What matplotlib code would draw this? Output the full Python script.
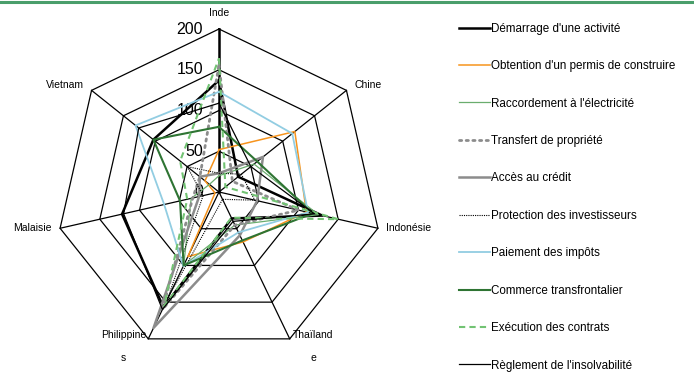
import numpy as np
import matplotlib
matplotlib.use("Agg")
import matplotlib.pyplot as plt
from matplotlib.lines import Line2D

plt.rcParams['font.family'] = ['Liberation Sans Narrow', 'Liberation Sans', 'DejaVu Sans']

# pays (axes du radar, dans le sens horaire depuis le haut)
pays = ['Inde', 'Chine', 'Indonésie', 'Thaïland\ne', 'Philippine\ns', 'Malaisie', 'Vietnam']

# classement par indicateur, dans l'ordre des pays
demarrage = [137, 30, 130, 36, 157, 122, 103]
permis = [52, 119, 110, 68, 88, 5, 22]
electricite = [20, 55, 125, 45, 100, 35, 15]
transfert = [156, 21, 100, 45, 160, 33, 30]
credit = [23, 69, 48, 59, 185, 25, 30]
protection = [23, 35, 45, 10, 145, 20, 50]
impots = [123, 115, 112, 55, 101, 69, 131]
commerce = [80, 60, 118, 66, 100, 49, 103]
contrats = [164, 10, 150, 35, 155, 40, 61]
insolvabilite = [109, 50, 120, 40, 160, 120, 126]

graduations = [0, 50, 100, 150, 200]

series = [
    ("Démarrage d'une activité", demarrage, dict(color='black', lw=1.8)),
    ("Obtention d'un permis de construire", permis, dict(color='#f7941d', lw=1.1)),
    ("Raccordement à l'électricité", electricite, dict(color='#6aad6e', lw=0.9)),
    ("Transfert de propriété", transfert, dict(color='#8c8c8c', lw=2.0, ls=(0, (0.8, 1.6)), dash_capstyle='round')),
    ("Accès au crédit", credit, dict(color='#8c8c8c', lw=1.8)),
    ("Protection des investisseurs", protection, dict(color='black', lw=0.8, ls=(0, (1, 1)))),
    ("Paiement des impôts", impots, dict(color='#92cde2', lw=1.3)),
    ("Commerce transfrontalier", commerce, dict(color='#2e7433', lw=1.5)),
    ("Exécution des contrats", contrats, dict(color='#72c373', lw=1.5, ls=(0, (3, 2)))),
    ("Règlement de l'insolvabilité", insolvabilite, dict(color='black', lw=0.9)),
]

W, H = 694, 373
fig = plt.figure(figsize=(W / 100, H / 100), dpi=100)

# repère du radar : centre et échelle en pixels
cx, cy = 219, 192
px_par_unite = 0.815
demi = 185
L = demi / px_par_unite
ax = fig.add_axes([(cx - demi) / W, (H - cy - demi) / H, 2 * demi / W, 2 * demi / H])
ax.set_xlim(-L, L)
ax.set_ylim(-L, L)
ax.set_aspect('equal')
ax.axis('off')

n = len(pays)
theta = np.arange(n) * 2 * np.pi / n
ux, uy = np.sin(theta), np.cos(theta)


def ferme(a):
    return np.append(a, a[0])


# grille heptagonale
rmax = graduations[-1]
for r in graduations[1:]:
    ax.plot(ferme(r * ux), ferme(r * uy), color='black', lw=0.9, zorder=1)
for k in range(n):
    ax.plot([0, rmax * ux[k]], [0, rmax * uy[k]], color='black',
            lw=1.8 if k == 0 else 0.9, zorder=1)

# séries
handles = []
for i, (nom, vals, style) in enumerate(series):
    v = np.array(vals, dtype=float)
    ln, = ax.plot(ferme(v * ux), ferme(v * uy), zorder=2 + i, **style)
    handles.append(ln)

# graduations sur l'axe Inde
for g in graduations:
    ax.text(-16 / px_par_unite, g, str(g), ha='right', va='center', fontsize=11.5)

# noms des pays
off = 8 / px_par_unite
fs = 7.5
ax.text(0, rmax + 16 / px_par_unite, pays[0], ha='center', va='center', fontsize=fs)
ax.text(rmax * ux[1] + off, rmax * uy[1] + 5 / px_par_unite, pays[1], ha='left', va='center', fontsize=fs)
ax.text(rmax * ux[2] + off, rmax * uy[2], pays[2], ha='left', va='center', fontsize=fs)
ax.text(rmax * ux[3] + 3 / px_par_unite, rmax * uy[3] + 9 / px_par_unite, pays[3], ha='left', va='top',
        multialignment='center', fontsize=fs, linespacing=2.7)
ax.text(rmax * ux[4] - 2 / px_par_unite, rmax * uy[4] + 9 / px_par_unite, pays[4], ha='right', va='top',
        multialignment='center', fontsize=fs, linespacing=2.7)
ax.text(rmax * ux[5] - off, rmax * uy[5], pays[5], ha='right', va='center', fontsize=fs)
ax.text(rmax * ux[6] - off, rmax * uy[6] + 5 / px_par_unite, pays[6], ha='right', va='center', fontsize=fs)

# légende à droite
fig.legend(handles, [s[0] for s in series], loc='upper left',
           bbox_to_anchor=(454 / W, 1 - 18 / H), frameon=False, fontsize=8.4,
           handlelength=2.65, handletextpad=0.12, labelspacing=2.18, borderaxespad=0)

# filet vert en haut
fig.add_artist(Line2D([0, 1], [1 - 1.5 / H, 1 - 1.5 / H], color='#4a9e6b', lw=2.2))

fig.savefig('out.png', dpi=100)
